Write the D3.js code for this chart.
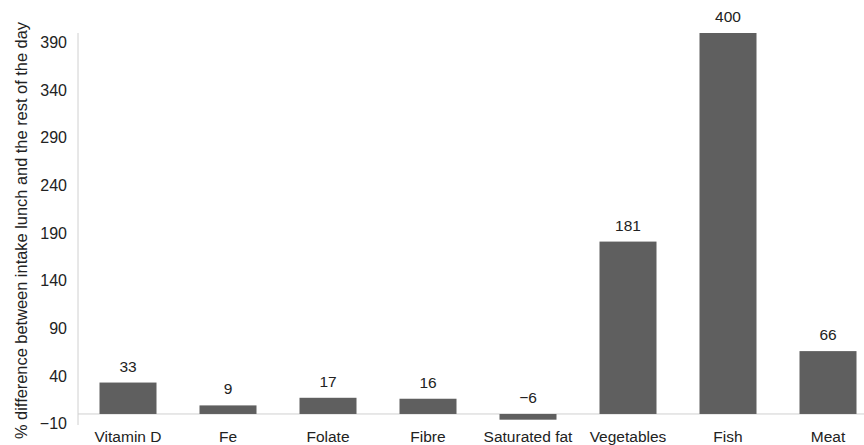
<!DOCTYPE html>
<html>
<head>
<meta charset="utf-8">
<script src="https://d3js.org/d3.v7.min.js"></script>
<style>
  body { margin: 0; background: #fff; }
  svg text { font-family: "Liberation Sans", Arial, sans-serif; fill: #222; }
</style>
</head>
<body>
<svg id="chart" width="864" height="445"></svg>
<script>
// data
const categories = ["Vitamin D", "Fe", "Folate", "Fibre", "Saturated fat", "Vegetables", "Fish", "Meat"];
const values = [33, 9, 17, 16, -6, 181, 400, 66];
const yTicks = [-10, 40, 90, 140, 190, 240, 290, 340, 390];
const yTitle = "% difference between intake lunch and the rest of the day";

const svg = d3.select("#chart");

const x = d3.scaleBand()
    .domain(categories)
    .range([78, 878])
    .paddingInner(0.43)
    .paddingOuter(0.215);

const y = d3.scaleLinear()
    .domain([-10, 400])
    .range([423.5, 33]);

const fmt = v => v < 0 ? "\u2212" + Math.abs(v) : String(v);

// y axis
const yAxis = svg.append("g")
    .attr("transform", "translate(78,0)")
    .call(d3.axisLeft(y).tickValues(yTicks).tickSize(0).tickPadding(11).tickFormat(fmt));
yAxis.attr("font-size", null).attr("font-family", null);
yAxis.select(".domain").attr("stroke", "#d0d0d0").attr("d", "M0,33V425");
yAxis.selectAll("text").style("font-size", "16px").attr("fill", "#222");

// zero line
svg.append("line")
    .attr("x1", 78).attr("x2", 864)
    .attr("y1", y(0)).attr("y2", y(0))
    .attr("stroke", "#d0d0d0");

// bars
svg.selectAll("rect.bar")
    .data(values)
    .enter().append("rect")
    .attr("class", "bar")
    .attr("x", (d, i) => x(categories[i]))
    .attr("width", x.bandwidth())
    .attr("y", d => y(Math.max(0, d)))
    .attr("height", d => Math.abs(y(d) - y(0)))
    .attr("fill", "#5f5f5f");

// value labels
svg.selectAll("text.val")
    .data(values)
    .enter().append("text")
    .attr("class", "val")
    .attr("x", (d, i) => x(categories[i]) + x.bandwidth() / 2)
    .attr("y", d => y(Math.max(0, d)) - 11)
    .attr("text-anchor", "middle")
    .style("font-size", "15.5px")
    .text(fmt);

// category labels
svg.selectAll("text.cat")
    .data(categories)
    .enter().append("text")
    .attr("class", "cat")
    .attr("x", d => x(d) + x.bandwidth() / 2)
    .attr("y", 442)
    .attr("text-anchor", "middle")
    .style("font-size", "15.5px")
    .text(d => d);

// y title
svg.append("text")
    .attr("transform", "translate(27,230.5) rotate(-90)")
    .attr("text-anchor", "middle")
    .style("font-size", "16.4px")
    .text(yTitle);
</script>
</body>
</html>
